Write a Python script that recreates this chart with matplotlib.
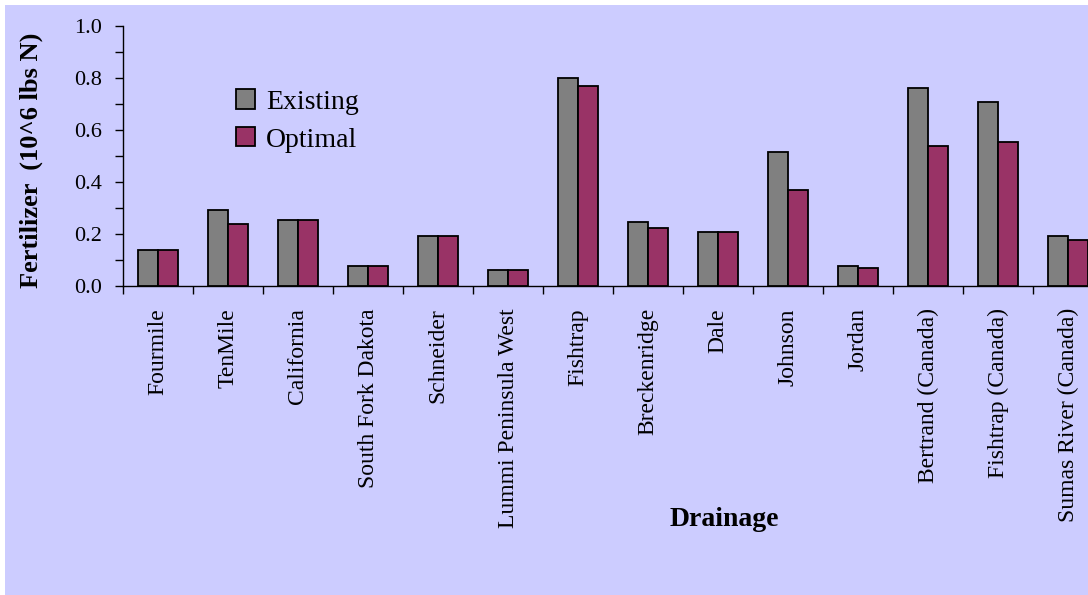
import numpy as np
import matplotlib.pyplot as plt
from matplotlib.patches import Rectangle, Patch

plt.rcParams['font.family'] = ['Liberation Serif', 'DejaVu Serif']

# fertilizer use per drainage, millions of lbs N
drainages = ['Fourmile', 'TenMile', 'California', 'South Fork Dakota', 'Schneider',
             'Lummi Peninsula West', 'Fishtrap', 'Breckenridge', 'Dale', 'Johnson',
             'Jordan', 'Bertrand (Canada)', 'Fishtrap (Canada)', 'Sumas River (Canada)']
existing = [0.138, 0.292, 0.254, 0.077, 0.192, 0.062, 0.799, 0.246, 0.208, 0.514,
            0.077, 0.760, 0.706, 0.191]
optimal = [0.138, 0.237, 0.254, 0.077, 0.192, 0.062, 0.768, 0.222, 0.208, 0.368,
           0.069, 0.537, 0.553, 0.176]

bg = '#CCCCFF'
W, H = 1088, 595

fig = plt.figure(figsize=(W / 100, H / 100), dpi=100, facecolor='white')
# chart area background, leaving a thin white strip at top and left
fig.patches.append(Rectangle((5 / W, 0), 1, 1 - 5 / H, transform=fig.transFigure,
                             facecolor=bg, edgecolor='none', zorder=-10))

ax = fig.add_axes([123 / W, 1 - 286 / H, 980 / W, 260 / H])
ax.set_facecolor('none')

x = np.arange(len(drainages))
bw = 2 / 7.0
b1 = ax.bar(x - bw / 2, existing, bw, color='#808080', edgecolor='black', linewidth=1.3, zorder=3)
b2 = ax.bar(x + bw / 2, optimal, bw, color='#993366', edgecolor='black', linewidth=1.3, zorder=3)

ax.set_xlim(-0.5, len(drainages) - 0.5)
ax.set_ylim(0, 1.0)

for s in ['top', 'right']:
    ax.spines[s].set_visible(False)
ax.spines['left'].set_linewidth(1.0)
ax.spines['bottom'].set_linewidth(1.0)

ax.set_yticks(np.arange(0, 1.01, 0.2))
ax.set_yticks(np.arange(0.1, 1.0, 0.2), minor=True)
ax.set_yticklabels(['%.1f' % v for v in np.arange(0, 1.01, 0.2)], fontsize=16)
ax.tick_params(axis='y', which='both', direction='out', length=6, width=1.0, pad=9)

# category separators as major ticks, names on minor ticks
ax.set_xticks(np.arange(-0.5, len(drainages), 1.0))
ax.set_xticklabels([])
ax.set_xticks(x, minor=True)
ax.set_xticklabels(drainages, minor=True, rotation=90, fontsize=17, va='top')
ax.tick_params(axis='x', which='major', direction='out', length=6, width=1.0)
ax.tick_params(axis='x', which='minor', length=0, pad=16)

fig.text(31 / W, 1 - 160 / H, 'Fertilizer  (10^6 lbs N)', rotation=90, fontsize=19,
         fontweight='bold', ha='center', va='center')
fig.text(724 / W, 1 - 519 / H, 'Drainage', fontsize=20, fontweight='bold',
         ha='center', va='center')

handles = [Patch(facecolor='#808080', edgecolor='black', linewidth=1.3),
           Patch(facecolor='#993366', edgecolor='black', linewidth=1.3)]
ax.legend(handles, ['Existing', 'Optimal'], loc='center left',
          bbox_to_anchor=(236 / W, 1 - 121 / H), bbox_transform=fig.transFigure,
          frameon=False, fontsize=20, handlelength=0.68, handleheight=0.68,
          handletextpad=0.4, labelspacing=0.45, borderpad=0, borderaxespad=0)

fig.savefig('out.png', dpi=100, facecolor=fig.get_facecolor())
